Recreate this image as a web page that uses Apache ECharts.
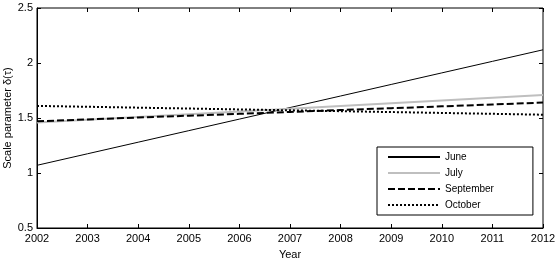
<!DOCTYPE html>
<html>
<head>
<meta charset="utf-8">
<script src="https://cdn.jsdelivr.net/npm/echarts@6/dist/echarts.min.js"></script>
<style>
html, body { margin: 0; padding: 0; background: #fff; }
#chart { width: 559px; height: 262px; }
</style>
</head>
<body>
<div id="chart"></div>
<script>
// 年份
var years = [2002, 2003, 2004, 2005, 2006, 2007, 2008, 2009, 2010, 2011, 2012];
// 各月份的尺度参数
var june = [1.07, 1.175, 1.28, 1.385, 1.49, 1.595, 1.70, 1.805, 1.91, 2.015, 2.12];
var july = [1.46, 1.485, 1.51, 1.535, 1.56, 1.585, 1.61, 1.635, 1.66, 1.685, 1.71];
var september = [1.47, 1.487, 1.504, 1.521, 1.538, 1.555, 1.572, 1.589, 1.606, 1.623, 1.64];
var october = [1.61, 1.602, 1.594, 1.586, 1.578, 1.57, 1.562, 1.554, 1.546, 1.538, 1.53];

function pairs(vals) {
    var arr = [];
    for (var i = 0; i < years.length; i++) {
        arr.push([years[i], vals[i]]);
    }
    return arr;
}

var font = 'Liberation Sans';
var chart = echarts.init(document.getElementById('chart'));

var tickStyle = { show: true, inside: true, length: 4, lineStyle: { color: '#000' } };

var option = {
    animation: false,
    grid: {
        left: 37, right: 16, top: 8, bottom: 34,
        outerBoundsMode: 'none', containLabel: false,
        show: true, borderColor: '#000', borderWidth: 1
    },
    legend: {
        orient: 'vertical',
        left: 377, top: 147,
        padding: [5, 39, 5, 10],
        itemGap: 6,
        itemWidth: 52, itemHeight: 12,
        borderColor: '#000', borderWidth: 1,
        backgroundColor: '#fff',
        itemStyle: { opacity: 0 },
        textStyle: { fontFamily: font, fontSize: 10, color: '#000' },
        data: ['June', 'July', 'September', 'October']
    },
    xAxis: [{
        type: 'value',
        min: 2002, max: 2012, interval: 1,
        name: 'Year', nameLocation: 'middle', nameGap: 21, nameMoveOverlap: false,
        nameTextStyle: { fontFamily: font, fontSize: 11, color: '#000' },
        axisLine: { show: true, lineStyle: { color: '#000' } },
        axisTick: tickStyle,
        axisLabel: { fontFamily: font, fontSize: 11, color: '#000', margin: 5, formatter: function (v) { return String(v); } },
        splitLine: { show: false }
    }, {
        type: 'value', position: 'top',
        min: 2002, max: 2012, interval: 1,
        axisLine: { show: false },
        axisTick: tickStyle,
        axisLabel: { show: false },
        splitLine: { show: false }
    }],
    yAxis: [{
        type: 'value',
        min: 0.5, max: 2.5, interval: 0.5,
        name: 'Scale parameter δ(τ)', nameLocation: 'middle', nameGap: 24, nameMoveOverlap: false,
        nameTextStyle: { fontFamily: font, fontSize: 11, color: '#000' },
        axisLine: { show: true, lineStyle: { color: '#000' } },
        axisTick: tickStyle,
        axisLabel: { fontFamily: font, fontSize: 11, color: '#000', margin: 4 },
        splitLine: { show: false }
    }, {
        type: 'value', position: 'right',
        min: 0.5, max: 2.5, interval: 0.5,
        axisLine: { show: false },
        axisTick: tickStyle,
        axisLabel: { show: false },
        splitLine: { show: false }
    }],
    series: [{
        name: 'June', type: 'line', data: pairs(june),
        symbol: 'none', color: '#000',
        lineStyle: { color: '#000', width: 1 }
    }, {
        name: 'July', type: 'line', data: pairs(july),
        symbol: 'none', color: '#bfbfbf',
        lineStyle: { color: '#bfbfbf', width: 2 }
    }, {
        name: 'September', type: 'line', data: pairs(september),
        symbol: 'none', color: '#000',
        lineStyle: { color: '#000', width: 2, type: [7, 3] }
    }, {
        name: 'October', type: 'line', data: pairs(october),
        symbol: 'none', color: '#000',
        lineStyle: { color: '#000', width: 2, type: [2, 2] }
    }]
};
chart.setOption(option);
</script>
</body>
</html>
